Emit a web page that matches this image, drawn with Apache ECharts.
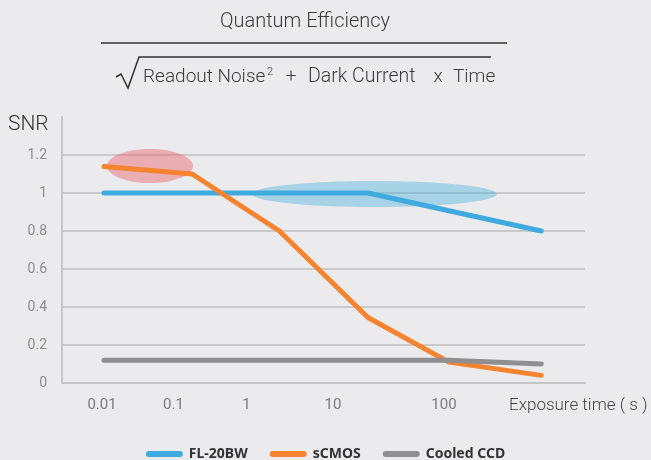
<!DOCTYPE html>
<html>
<head>
<meta charset="utf-8">
<script src="https://cdn.jsdelivr.net/npm/echarts@6/dist/echarts.min.js"></script>
<style>
  html, body { margin: 0; padding: 0; background: #ebebed; }
  #chart { width: 651px; height: 460px; }
</style>
</head>
<body>
<div id="chart"></div>
<script>
// ---- data ----
const tickTimes = [0.01, 0.1, 1, 10, 100];
const tickLabels = ['0.01', '0.1', '1', '10', '100'];

const flTimes = [0.01, 20, 500];
const flSNR = [1.0, 1.0, 0.8];

const cmosTimes = [0.01, 0.18, 2.4, 20, 100, 500];
const cmosSNR = [1.14, 1.1, 0.8, 0.345, 0.11, 0.04];

const ccdTimes = [0.01, 100, 500];
const ccdSNR = [0.12, 0.12, 0.1];

const seriesNames = ['FL-20BW', 'sCMOS', 'Cooled CCD'];

// highlight ellipses (time range, SNR range)
const hlT0 = [0.011, 1.16];
const hlT1 = [0.185, 231];
const hlV0 = [1.053, 0.926];
const hlV1 = [1.232, 1.063];
const hlColors = ['rgba(230,87,100,0.42)', 'rgba(67,175,219,0.40)'];

// ---- layout: non-uniform decade spacing of the exposure-time axis ----
const decadeAxisPos = [42, 111.5, 184.5, 271, 387, 519]; // 1e-2 .. 1e3
const labelShift = [4, 0, 0, 0, 10]; // right padding nudging some tick labels left
function warp(t) {
  let l = Math.log10(t) + 2;
  let i = Math.max(0, Math.min(Math.floor(l), decadeAxisPos.length - 2));
  const f = l - i;
  return decadeAxisPos[i] + f * (decadeAxisPos[i + 1] - decadeAxisPos[i]);
}
const pairs = (ts, vs) => ts.map((t, i) => [warp(t), vs[i]]);
const tickPos = tickTimes.map(warp);

const chart = echarts.init(document.getElementById('chart'));
const lineBase = { type: 'line', showSymbol: false, symbol: 'none', smooth: false };
const font = 'Roboto';
const xRich = {};
labelShift.forEach((s, i) => {
  xRich['t' + i] = { color: '#7c7c7c', fontFamily: font, fontSize: 15, padding: [0, s, 0, 0] };
});

chart.setOption({
  animation: false,
  backgroundColor: '#ebebed',
  grid: { left: 62, right: 66, top: 117, bottom: 77 },
  xAxis: {
    type: 'value', min: 0, max: 523,
    axisLine: { show: true, lineStyle: { color: '#c6c6c6', width: 2 } },
    axisTick: { show: false },
    splitLine: { show: false },
    axisLabel: {
      customValues: tickPos,
      margin: 15,
      color: '#7c7c7c', fontFamily: font, fontSize: 15,
      rich: xRich,
      formatter: function (v) {
        let best = 0;
        tickPos.forEach((p, i) => { if (Math.abs(p - v) < Math.abs(tickPos[best] - v)) best = i; });
        return '{t' + best + '|' + tickLabels[best] + '}';
      }
    }
  },
  yAxis: {
    type: 'value', min: 0, max: 1.4, interval: 0.2,
    axisLine: { show: true, lineStyle: { color: '#c6c6c6', width: 2 } },
    axisTick: { show: false },
    splitLine: { show: true, showMaxLine: false, lineStyle: { color: '#cacaca', width: 2 } },
    axisLabel: {
      showMaxLabel: false, margin: 15,
      color: '#8e8e8e', fontFamily: font, fontSize: 14,
      formatter: v => String(+v.toFixed(1))
    }
  },
  legend: {
    data: seriesNames,
    left: 'center', top: 442,
    itemWidth: 37, itemHeight: 6, itemGap: 22,
    icon: 'path://M3,0 L34,0 A3,3 0 0 1 34,6 L3,6 A3,3 0 0 1 3,0 Z',
    textStyle: { fontFamily: 'Noto Sans', fontWeight: 'bold', fontSize: 14, color: '#333', padding: [0, 0, 0, 1] }
  },
  graphic: [
    { type: 'text', x: 305, y: 22, style: { text: 'Quantum Efficiency', font: '300 20px Roboto', fill: '#3c3c3c', align: 'center', verticalAlign: 'middle' } },
    { type: 'line', shape: { x1: 101, y1: 43, x2: 507, y2: 43 }, style: { stroke: '#333', lineWidth: 1.5 } },
    { type: 'polyline', shape: { points: [[116, 77], [121, 74], [128, 88], [139, 57], [491, 57]] }, style: { stroke: '#333', lineWidth: 1.5, fill: null } },
    { type: 'text', x: 143, y: 77, style: { text: 'Readout Noise', font: '300 19px Roboto', fill: '#3c3c3c', align: 'left', verticalAlign: 'middle' } },
    { type: 'text', x: 267, y: 67, style: { text: '2', font: '300 11px Roboto', fill: '#3c3c3c', align: 'left', verticalAlign: 'top' } },
    { type: 'text', x: 291, y: 77, style: { text: '+', font: '300 19px Roboto', fill: '#3c3c3c', align: 'center', verticalAlign: 'middle' } },
    { type: 'text', x: 308, y: 77, style: { text: 'Dark Current', font: '300 19.5px Roboto', fill: '#3c3c3c', align: 'left', verticalAlign: 'middle' } },
    { type: 'text', x: 438, y: 77, style: { text: 'x', font: '300 19px Roboto', fill: '#3c3c3c', align: 'center', verticalAlign: 'middle' } },
    { type: 'text', x: 453, y: 77, style: { text: 'Time', font: '300 19px Roboto', fill: '#3c3c3c', align: 'left', verticalAlign: 'middle' } },
    { type: 'text', x: 8, y: 125, style: { text: 'SNR', font: '300 21px Roboto', fill: '#333', align: 'left', verticalAlign: 'middle' } },
    { type: 'text', x: 509, y: 406, style: { text: 'Exposure time ( s )', font: '300 17px Roboto', fill: '#444', align: 'left', verticalAlign: 'middle' } }
  ],
  series: [
    Object.assign({}, lineBase, {
      name: seriesNames[0], data: pairs(flTimes, flSNR), color: '#3eaadd',
      lineStyle: { width: 5, color: '#3eaadd', cap: 'round', join: 'round' }
    }),
    Object.assign({}, lineBase, {
      name: seriesNames[1], data: pairs(cmosTimes, cmosSNR), color: '#f5832f',
      lineStyle: { width: 5, color: '#f5832f', cap: 'round', join: 'round' }
    }),
    Object.assign({}, lineBase, {
      name: seriesNames[2], data: pairs(ccdTimes, ccdSNR), color: '#8f8f91',
      lineStyle: { width: 5, color: '#8f8f91', cap: 'round', join: 'round' }
    }),
    {
      type: 'custom', name: 'highlight', silent: true,
      encode: { x: [0, 1], y: [2, 3] },
      data: hlT0.map((t, i) => [warp(t), warp(hlT1[i]), hlV0[i], hlV1[i]]),
      renderItem: function (params, api) {
        const p0 = api.coord([api.value(0), api.value(2)]);
        const p1 = api.coord([api.value(1), api.value(3)]);
        return {
          type: 'ellipse',
          shape: { cx: (p0[0] + p1[0]) / 2, cy: (p0[1] + p1[1]) / 2, rx: Math.abs(p1[0] - p0[0]) / 2, ry: Math.abs(p1[1] - p0[1]) / 2 },
          style: { fill: hlColors[params.dataIndex] }
        };
      }
    }
  ]
});
</script>
</body>
</html>
